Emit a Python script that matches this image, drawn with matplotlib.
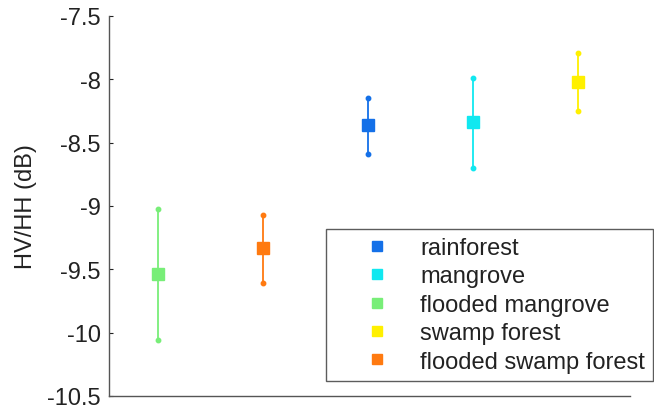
import matplotlib
matplotlib.use("Agg")
import matplotlib.pyplot as plt
from matplotlib.lines import Line2D

plt.rcParams['font.family'] = ['Liberation Sans', 'DejaVu Sans']

# classes in the order they appear along x
classes = ["flooded mangrove", "flooded swamp forest", "rainforest", "mangrove", "swamp forest"]
means = [-9.54, -9.33, -8.36, -8.34, -8.02]
lows = [-10.06, -9.61, -8.59, -8.70, -8.25]
highs = [-9.02, -9.07, -8.15, -7.99, -7.79]
colors = ["#78ee78", "#ff7a10", "#1470e8", "#10e8f0", "#fff000"]

legend_order = ["rainforest", "mangrove", "flooded mangrove", "swamp forest", "flooded swamp forest"]
yticks = [-10.5, -10, -9.5, -9, -8.5, -8, -7.5]
ytick_labels = ["-10.5", "-10", "-9.5", "-9", "-8.5", "-8", "-7.5"]

fig = plt.figure(figsize=(6.54, 4.10), dpi=100)
ax = fig.add_axes([109/654, 13/410, (630-109)/654, (397-17)/410])

for i, name in enumerate(classes):
    x = i + 1
    c = colors[i]
    ax.plot([x, x], [lows[i], highs[i]], color=c, lw=1.3)
    ax.plot([x, x], [lows[i], highs[i]], 'o', color=c, ms=3.2, mec=c)
    ax.plot(x, means[i], 's', color=c, ms=9, mec=c)

ax.set_xlim(0.53, 5.5)
ax.set_ylim(-10.5, -7.5)
ax.set_yticks(yticks)
ax.set_yticklabels(ytick_labels)
ax.set_xticks([])
ax.tick_params(axis='y', direction='in', length=3, labelsize=17, colors='#222222', pad=6)
ax.yaxis.label.set_color('#222222')
ax.set_ylabel("HV/HH (dB)", fontsize=17, labelpad=7)
for s in ['top', 'right']:
    ax.spines[s].set_visible(False)
for s in ['left', 'bottom']:
    ax.spines[s].set_color('#555555')
    ax.spines[s].set_linewidth(1.0)

handles = []
for name in legend_order:
    c = colors[classes.index(name)]
    handles.append(Line2D([], [], marker='s', ls='none', color=c, ms=7.5, label=name))
leg = ax.legend(handles=handles, loc='upper left', bbox_to_anchor=(326/654, 1-230/410),
                bbox_transform=fig.transFigure, borderaxespad=0, fontsize=17,
                frameon=True, fancybox=False, edgecolor='#333333', handletextpad=0.0,
                labelspacing=0.27, borderpad=0.34, handlelength=3.64)
leg.get_frame().set_linewidth(1.0)
for t in leg.get_texts():
    t.set_color('#222222')

fig.savefig("out.png", dpi=100)
